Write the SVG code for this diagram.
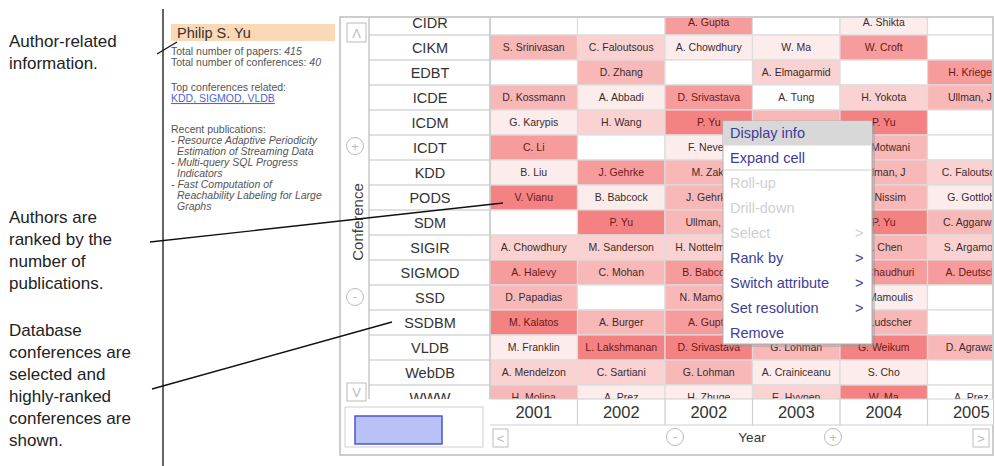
<svg xmlns="http://www.w3.org/2000/svg" width="995" height="466" viewBox="0 0 995 466">
<style>
.ann{font-family:"Liberation Sans",Arial,sans-serif;font-size:17px;fill:#222}
.lp{font-family:"Liberation Sans",Arial,sans-serif;font-size:10.5px;fill:#555}
.it{font-style:italic}
.conn{stroke:#111;stroke-width:1.3;fill:none}
.nm{font-family:"Liberation Sans",Arial,sans-serif;font-size:14.5px;fill:#333;text-anchor:middle}
.ct{font-family:"Liberation Sans",Arial,sans-serif;font-size:10.5px;fill:#3b2b2b;text-anchor:middle}
.cd{fill:#6b1818}
.gl{stroke:#d6d6d6;stroke-width:1.5}
.l0{fill:#ffffff}.l1{fill:#fdecec}.l2{fill:#fbd2d2}.l3{fill:#f9b8b8}.l4{fill:#f69c9c}.l5{fill:#f48282}
.yr{font-family:"Liberation Sans",Arial,sans-serif;font-size:16.5px;fill:#333;text-anchor:middle}
.btn{fill:#fff;stroke:#bbb;stroke-width:1}
.bt{font-family:"Liberation Sans",Arial,sans-serif;font-size:13px;fill:#bbb;text-anchor:middle}
.mi{font-family:"Liberation Sans",Arial,sans-serif;font-size:14.5px;fill:#3d3d9a}
.md{fill:#cfcfcf}
</style>
<defs>
<clipPath id="gridclip"><rect x="369" y="18" width="623" height="381"/></clipPath>
<clipPath id="rightofmenu"><rect x="872" y="0" width="130" height="466"/></clipPath>
<clipPath id="leftofmenu"><rect x="0" y="0" width="723" height="466"/></clipPath>
</defs>

<g id="annotations">
<text class="ann" x="9" y="47">Author-related</text>
<text class="ann" x="9" y="69">information.</text>
<text class="ann" x="9" y="223">Authors are</text>
<text class="ann" x="9" y="245">ranked by the</text>
<text class="ann" x="9" y="267">number of</text>
<text class="ann" x="9" y="289">publications.</text>
<text class="ann" x="9" y="336">Database</text>
<text class="ann" x="9" y="358">conferences are</text>
<text class="ann" x="9" y="380">selected and</text>
<text class="ann" x="9" y="402">highly-ranked</text>
<text class="ann" x="9" y="424">conferences are</text>
<text class="ann" x="9" y="446">shown.</text>
</g>

<g id="author-panel">
<rect x="171" y="24" width="164" height="17" fill="#fcd9b6"/>
<text x="177" y="37.5" font-family="Liberation Sans,Arial,sans-serif" font-size="14.5" fill="#333">Philip S. Yu</text>
<text class="lp" x="171" y="55">Total number of papers: <tspan class="it">415</tspan></text>
<text class="lp" x="171" y="66">Total number of conferences: <tspan class="it">40</tspan></text>
<text class="lp" x="171" y="91">Top conferences related:</text>
<text class="lp" x="171" y="102" style="fill:#4a66d8" text-decoration="underline">KDD, SIGMOD, VLDB</text>
<text class="lp" x="171" y="133">Recent publications:</text>
<text class="lp it" x="171" y="144">- Resource Adaptive Periodicity</text>
<text class="lp it" x="177" y="155">Estimation of Streaming Data</text>
<text class="lp it" x="171" y="166">- Multi-query SQL Progress</text>
<text class="lp it" x="177" y="177">Indicators</text>
<text class="lp it" x="171" y="188">- Fast Computation of</text>
<text class="lp it" x="177" y="199">Reachability Labeling for Large</text>
<text class="lp it" x="177" y="210">Graphs</text>
</g>

<g id="table-panel">
<rect x="340" y="17" width="653" height="438" fill="#fff" stroke="#bdbdbd" stroke-width="1.5"/>
<g clip-path="url(#gridclip)">
<g id="names">
<rect x="369" y="10" width="121" height="390" fill="#fff"/>
<g class="gl">
<line x1="369" y1="35" x2="490" y2="35"/><line x1="369" y1="60" x2="490" y2="60"/><line x1="369" y1="85" x2="490" y2="85"/><line x1="369" y1="110" x2="490" y2="110"/><line x1="369" y1="135" x2="490" y2="135"/><line x1="369" y1="160" x2="490" y2="160"/><line x1="369" y1="185" x2="490" y2="185"/><line x1="369" y1="210" x2="490" y2="210"/><line x1="369" y1="235" x2="490" y2="235"/><line x1="369" y1="260" x2="490" y2="260"/><line x1="369" y1="285" x2="490" y2="285"/><line x1="369" y1="310" x2="490" y2="310"/><line x1="369" y1="335" x2="490" y2="335"/><line x1="369" y1="360" x2="490" y2="360"/><line x1="369" y1="385" x2="490" y2="385"/>
</g>
<text class="nm" x="430" y="27.5">CIDR</text>
<text class="nm" x="430" y="52.5">CIKM</text>
<text class="nm" x="430" y="77.5">EDBT</text>
<text class="nm" x="430" y="102.5">ICDE</text>
<text class="nm" x="430" y="127.5">ICDM</text>
<text class="nm" x="430" y="152.5">ICDT</text>
<text class="nm" x="430" y="177.5">KDD</text>
<text class="nm" x="430" y="202.5">PODS</text>
<text class="nm" x="430" y="227.5">SDM</text>
<text class="nm" x="430" y="252.5">SIGIR</text>
<text class="nm" x="430" y="277.5">SIGMOD</text>
<text class="nm" x="430" y="302.5">SSD</text>
<text class="nm" x="430" y="327.5">SSDBM</text>
<text class="nm" x="430" y="352.5">VLDB</text>
<text class="nm" x="430" y="377.5">WebDB</text>
<text class="nm" x="430" y="402.5">WWW</text>
</g>
<g id="cells" stroke="#dcdcdc" stroke-width="1.2">
<rect class="l0" x="490" y="10" width="87.5" height="25"/><rect class="l0" x="577.5" y="10" width="87.5" height="25"/><rect class="l4" x="665" y="10" width="87.5" height="25"/><rect class="l0" x="752.5" y="10" width="87.5" height="25"/><rect class="l1" x="840" y="10" width="87.5" height="25"/><rect class="l0" x="927.5" y="10" width="87.5" height="25"/>
<rect class="l3" x="490" y="35" width="87.5" height="25"/><rect class="l2" x="577.5" y="35" width="87.5" height="25"/><rect class="l1" x="665" y="35" width="87.5" height="25"/><rect class="l1" x="752.5" y="35" width="87.5" height="25"/><rect class="l4" x="840" y="35" width="87.5" height="25"/><rect class="l0" x="927.5" y="35" width="87.5" height="25"/>
<rect class="l0" x="490" y="60" width="87.5" height="25"/><rect class="l3" x="577.5" y="60" width="87.5" height="25"/><rect class="l0" x="665" y="60" width="87.5" height="25"/><rect class="l2" x="752.5" y="60" width="87.5" height="25"/><rect class="l0" x="840" y="60" width="87.5" height="25"/><rect class="l4" x="927.5" y="60" width="87.5" height="25"/>
<rect class="l3" x="490" y="85" width="87.5" height="25"/><rect class="l1" x="577.5" y="85" width="87.5" height="25"/><rect class="l4" x="665" y="85" width="87.5" height="25"/><rect class="l0" x="752.5" y="85" width="87.5" height="25"/><rect class="l2" x="840" y="85" width="87.5" height="25"/><rect class="l3" x="927.5" y="85" width="87.5" height="25"/>
<rect class="l1" x="490" y="110" width="87.5" height="25"/><rect class="l2" x="577.5" y="110" width="87.5" height="25"/><rect class="l5" x="665" y="110" width="87.5" height="25"/><rect class="l3" x="752.5" y="110" width="87.5" height="25"/><rect class="l5" x="840" y="110" width="87.5" height="25"/><rect class="l0" x="927.5" y="110" width="87.5" height="25"/>
<rect class="l4" x="490" y="135" width="87.5" height="25"/><rect class="l0" x="577.5" y="135" width="87.5" height="25"/><rect class="l1" x="665" y="135" width="87.5" height="25"/><rect class="l2" x="752.5" y="135" width="87.5" height="25"/><rect class="l3" x="840" y="135" width="87.5" height="25"/><rect class="l0" x="927.5" y="135" width="87.5" height="25"/>
<rect class="l1" x="490" y="160" width="87.5" height="25"/><rect class="l4" x="577.5" y="160" width="87.5" height="25"/><rect class="l3" x="665" y="160" width="87.5" height="25"/><rect class="l2" x="752.5" y="160" width="87.5" height="25"/><rect class="l3" x="840" y="160" width="87.5" height="25"/><rect class="l2" x="927.5" y="160" width="87.5" height="25"/>
<rect class="l5" x="490" y="185" width="87.5" height="25"/><rect class="l1" x="577.5" y="185" width="87.5" height="25"/><rect class="l3" x="665" y="185" width="87.5" height="25"/><rect class="l2" x="752.5" y="185" width="87.5" height="25"/><rect class="l3" x="840" y="185" width="87.5" height="25"/><rect class="l1" x="927.5" y="185" width="87.5" height="25"/>
<rect class="l0" x="490" y="210" width="87.5" height="25"/><rect class="l5" x="577.5" y="210" width="87.5" height="25"/><rect class="l3" x="665" y="210" width="87.5" height="25"/><rect class="l2" x="752.5" y="210" width="87.5" height="25"/><rect class="l5" x="840" y="210" width="87.5" height="25"/><rect class="l3" x="927.5" y="210" width="87.5" height="25"/>
<rect class="l2" x="490" y="235" width="87.5" height="25"/><rect class="l2" x="577.5" y="235" width="87.5" height="25"/><rect class="l2" x="665" y="235" width="87.5" height="25"/><rect class="l2" x="752.5" y="235" width="87.5" height="25"/><rect class="l3" x="840" y="235" width="87.5" height="25"/><rect class="l2" x="927.5" y="235" width="87.5" height="25"/>
<rect class="l4" x="490" y="260" width="87.5" height="25"/><rect class="l3" x="577.5" y="260" width="87.5" height="25"/><rect class="l4" x="665" y="260" width="87.5" height="25"/><rect class="l2" x="752.5" y="260" width="87.5" height="25"/><rect class="l4" x="840" y="260" width="87.5" height="25"/><rect class="l4" x="927.5" y="260" width="87.5" height="25"/>
<rect class="l3" x="490" y="285" width="87.5" height="25"/><rect class="l0" x="577.5" y="285" width="87.5" height="25"/><rect class="l3" x="665" y="285" width="87.5" height="25"/><rect class="l2" x="752.5" y="285" width="87.5" height="25"/><rect class="l1" x="840" y="285" width="87.5" height="25"/><rect class="l0" x="927.5" y="285" width="87.5" height="25"/>
<rect class="l5" x="490" y="310" width="87.5" height="25"/><rect class="l3" x="577.5" y="310" width="87.5" height="25"/><rect class="l4" x="665" y="310" width="87.5" height="25"/><rect class="l2" x="752.5" y="310" width="87.5" height="25"/><rect class="l3" x="840" y="310" width="87.5" height="25"/><rect class="l0" x="927.5" y="310" width="87.5" height="25"/>
<rect class="l1" x="490" y="335" width="87.5" height="25"/><rect class="l5" x="577.5" y="335" width="87.5" height="25"/><rect class="l5" x="665" y="335" width="87.5" height="25"/><rect class="l3" x="752.5" y="335" width="87.5" height="25"/><rect class="l5" x="840" y="335" width="87.5" height="25"/><rect class="l3" x="927.5" y="335" width="87.5" height="25"/>
<rect class="l2" x="490" y="360" width="87.5" height="25"/><rect class="l2" x="577.5" y="360" width="87.5" height="25"/><rect class="l3" x="665" y="360" width="87.5" height="25"/><rect class="l1" x="752.5" y="360" width="87.5" height="25"/><rect class="l1" x="840" y="360" width="87.5" height="25"/><rect class="l0" x="927.5" y="360" width="87.5" height="25"/>
<rect class="l3" x="490" y="385" width="87.5" height="25"/><rect class="l1" x="577.5" y="385" width="87.5" height="25"/><rect class="l1" x="665" y="385" width="87.5" height="25"/><rect class="l2" x="752.5" y="385" width="87.5" height="25"/><rect class="l5" x="840" y="385" width="87.5" height="25"/><rect class="l0" x="927.5" y="385" width="87.5" height="25"/>
</g>
<g id="cell-texts">
<text class="ct cd" x="708.75" y="26">A. Gupta</text><text class="ct" x="883.75" y="26">A. Shikta</text>
<text class="ct" x="533.75" y="51">S. Srinivasan</text><text class="ct" x="621.25" y="51">C. Faloutsous</text><text class="ct" x="708.75" y="51">A. Chowdhury</text><text class="ct" x="796.25" y="51">W. Ma</text><text class="ct cd" x="883.75" y="51">W. Croft</text>
<text class="ct" x="621.25" y="76">D. Zhang</text><text class="ct" x="796.25" y="76">A. Elmagarmid</text><text class="ct cd" x="971.25" y="76">H. Kriegel</text>
<text class="ct" x="533.75" y="101">D. Kossmann</text><text class="ct" x="621.25" y="101">A. Abbadi</text><text class="ct cd" x="708.75" y="101">D. Srivastava</text><text class="ct" x="796.25" y="101">A. Tung</text><text class="ct" x="883.75" y="101">H. Yokota</text><text class="ct" x="971.25" y="101">Ullman, J.</text>
<text class="ct" x="533.75" y="126">G. Karypis</text><text class="ct" x="621.25" y="126">H. Wang</text><text class="ct cd" x="708.75" y="126">P. Yu</text>
<text class="ct cd" x="533.75" y="151">C. Li</text>
<text class="ct" x="533.75" y="176">B. Liu</text><text class="ct cd" x="621.25" y="176">J. Gehrke</text><text class="ct" x="971.25" y="176">C. Faloutsos</text>
<text class="ct cd" x="533.75" y="201">V. Vianu</text><text class="ct" x="621.25" y="201">B. Babcock</text><text class="ct" x="971.25" y="201">G. Gottlob</text>
<text class="ct cd" x="621.25" y="226">P. Yu</text><text class="ct" x="971.25" y="226">C. Aggarwal</text>
<text class="ct" x="533.75" y="251">A. Chowdhury</text><text class="ct" x="621.25" y="251">M. Sanderson</text><text class="ct" x="971.25" y="251">S. Argamon</text>
<text class="ct cd" x="533.75" y="276">A. Halevy</text><text class="ct" x="621.25" y="276">C. Mohan</text><text class="ct cd" x="971.25" y="276">A. Deutsch</text>
<text class="ct" x="533.75" y="301">D. Papadias</text>
<text class="ct cd" x="533.75" y="326">M. Kalatos</text><text class="ct" x="621.25" y="326">A. Burger</text>
<g clip-path="url(#leftofmenu)">
<text class="ct" x="708.75" y="151">F. Neven</text>
<text class="ct" x="708.75" y="176">M. Zaki</text>
<text class="ct" x="708.75" y="201">J. Gehrke</text>
<text class="ct" x="708.75" y="226">Ullman, J.</text>
<text class="ct" x="708.75" y="251">H. Nottelmann</text>
<text class="ct cd" x="708.75" y="276">B. Babcock</text>
<text class="ct" x="708.75" y="301">N. Mamoulis</text>
<text class="ct cd" x="708.75" y="326">A. Gupta</text>
</g>
<g clip-path="url(#rightofmenu)">
<text class="ct cd" x="883.75" y="126">P. Yu</text>
<text class="ct" x="883.75" y="151">R. Motwani</text>
<text class="ct" x="883.75" y="176">Ullman, J</text>
<text class="ct" x="883.75" y="201">K. Nissim</text>
<text class="ct cd" x="883.75" y="226">P. Yu</text>
<text class="ct" x="883.75" y="251">Z. Chen</text>
<text class="ct cd" x="883.75" y="276">S. Chaudhuri</text>
<text class="ct" x="883.75" y="301">N. Mamoulis</text>
<text class="ct" x="883.75" y="326">B. Ludscher</text>
</g>
<text class="ct" x="533.75" y="351">M. Franklin</text><text class="ct cd" x="621.25" y="351">L. Lakshmanan</text><text class="ct cd" x="708.75" y="351">D. Srivastava</text><text class="ct" x="796.25" y="351">G. Lohman</text><text class="ct cd" x="883.75" y="351">G. Weikum</text><text class="ct" x="971.25" y="351">D. Agrawal</text>
<text class="ct" x="533.75" y="376">A. Mendelzon</text><text class="ct" x="621.25" y="376">C. Sartiani</text><text class="ct" x="708.75" y="376">G. Lohman</text><text class="ct" x="796.25" y="376">A. Crainiceanu</text><text class="ct" x="883.75" y="376">S. Cho</text>
<text class="ct" x="533.75" y="401">H. Molina</text><text class="ct" x="621.25" y="401">A. Prez</text><text class="ct" x="708.75" y="401">H. Zhuge</text><text class="ct" x="796.25" y="401">E. Hyvnen</text><text class="ct cd" x="883.75" y="401">W. Ma</text><text class="ct" x="971.25" y="401">A. Prez</text>
</g>
</g>
<line x1="369" y1="17" x2="369" y2="399" stroke="#c8c8c8" stroke-width="1.5"/>
<line x1="490" y1="17" x2="490" y2="399" stroke="#c8c8c8" stroke-width="1.5"/>

<g id="side-controls">
<rect class="btn" x="347" y="23" width="19" height="19"/>
<text class="bt" x="356.5" y="38">Λ</text>
<circle cx="355" cy="146" r="8.5" fill="#fff" stroke="#bbb"/>
<text class="bt" x="355" y="151">+</text>
<text x="357" y="222" transform="rotate(-90 357 222)" text-anchor="middle" dominant-baseline="central" font-family="Liberation Sans,Arial,sans-serif" font-size="15" fill="#444">Conference</text>
<circle cx="355" cy="297" r="8.5" fill="#fff" stroke="#bbb"/>
<text class="bt" x="355" y="301">-</text>
<rect class="btn" x="347" y="383" width="19" height="18"/>
<text class="bt" x="356.5" y="397">V</text>
</g>

<g id="year-axis">
<rect x="490" y="399" width="503" height="26" fill="#fff"/>
<g stroke="#cfcfcf" stroke-width="1.2">
<line x1="490" y1="399" x2="993" y2="399"/><line x1="490" y1="425" x2="993" y2="425"/>
<line x1="577.5" y1="399" x2="577.5" y2="425"/><line x1="665" y1="399" x2="665" y2="425"/><line x1="752.5" y1="399" x2="752.5" y2="425"/><line x1="840" y1="399" x2="840" y2="425"/><line x1="927.5" y1="399" x2="927.5" y2="425"/>
</g>
<text class="yr" x="533.75" y="417.5">2001</text><text class="yr" x="621.25" y="417.5">2002</text><text class="yr" x="708.75" y="417.5">2002</text><text class="yr" x="796.25" y="417.5">2003</text><text class="yr" x="883.75" y="417.5">2004</text><text class="yr" x="971.25" y="417.5">2005</text>
<rect class="btn" x="493" y="429" width="15" height="18"/>
<text class="bt" x="500.5" y="443">&lt;</text>
<circle cx="675" cy="437" r="8.5" fill="#fff" stroke="#bbb"/>
<text class="bt" x="675" y="441">-</text>
<text x="752" y="442" text-anchor="middle" font-family="Liberation Sans,Arial,sans-serif" font-size="13.5" fill="#333">Year</text>
<circle cx="833" cy="437" r="8.5" fill="#fff" stroke="#bbb"/>
<text class="bt" x="833" y="442">+</text>
<rect class="btn" x="973" y="429" width="16" height="18"/>
<text class="bt" x="981" y="443">&gt;</text>
</g>

<g id="overview">
<rect x="345" y="407" width="138" height="40" fill="#fff" stroke="#cfcfcf"/>
<rect x="355" y="416" width="87" height="28" fill="#b9c1f7" stroke="#4a58c8" stroke-width="1.5"/>
</g>
</g>

<g id="context-menu">
<rect x="726" y="124" width="149" height="223" fill="#999" opacity="0.45"/>
<rect x="723" y="121" width="149" height="223" fill="#fff" stroke="#b0b0b0"/>
<rect x="723.5" y="121.5" width="148" height="24" fill="#d8d8d8"/>
<line x1="723" y1="170" x2="872" y2="170" stroke="#cfcfcf"/>
<text class="mi" x="730" y="138">Display info</text>
<text class="mi" x="730" y="163">Expand cell</text>
<text class="mi md" x="730" y="188">Roll-up</text>
<text class="mi md" x="730" y="213">Drill-down</text>
<text class="mi md" x="730" y="238">Select</text><text class="mi md" x="855" y="238">&gt;</text>
<text class="mi" x="730" y="263">Rank by</text><text class="mi" x="855" y="263">&gt;</text>
<text class="mi" x="730" y="288">Switch attribute</text><text class="mi" x="855" y="288">&gt;</text>
<text class="mi" x="730" y="313">Set resolution</text><text class="mi" x="855" y="313">&gt;</text>
<text class="mi" x="730" y="338">Remove</text>
</g>

<g id="connectors">
<line class="conn" x1="163" y1="9" x2="163" y2="466"/>
<line class="conn" x1="157" y1="54" x2="177" y2="42"/>
<line class="conn" x1="150" y1="242" x2="503" y2="203"/>
<line class="conn" x1="152" y1="389" x2="392" y2="322"/>
</g>
</svg>
